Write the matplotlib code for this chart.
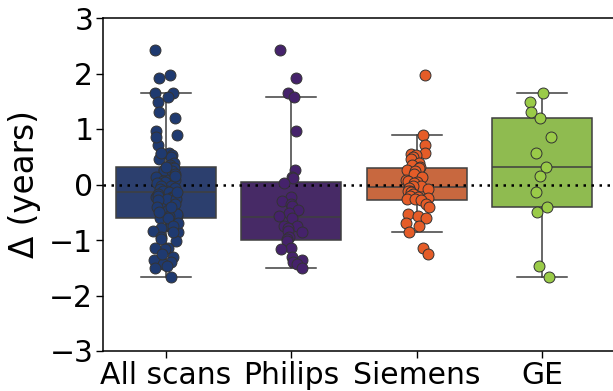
import numpy as np
import matplotlib
matplotlib.use("Agg")
import matplotlib.pyplot as plt

categories = ["All scans", "Philips", "Siemens", "GE"]

philips = [2.42, 1.92, 1.64, 1.58, 0.97, 0.26, 0.14, 0.11, 0.02, -0.22, -0.30,
           -0.36, -0.39, -0.46, -0.52, -0.57, -0.60, -0.74, -0.75, -0.78, -0.84,
           -0.86, -0.95, -0.99, -1.02, -1.14, -1.17, -1.31, -1.36, -1.40, -1.43,
           -1.51]

siemens = [1.98, 0.90, 0.71, 0.57, 0.55, 0.53, 0.50, 0.46, 0.38, 0.35, 0.31,
           0.30, 0.26, 0.25, 0.19, 0.14, 0.09, 0.06, 0.05, 0.03, -0.02, -0.03,
           -0.07, -0.09, -0.12, -0.12, -0.14, -0.17, -0.20, -0.22, -0.24, -0.26,
           -0.27, -0.28, -0.35, -0.40, -0.54, -0.57, -0.60, -0.70, -0.74, -0.86,
           -1.15, -1.26]

ge = [1.65, 1.49, 1.31, 1.19, 0.85, 0.57, 0.32, 0.15, -0.14, -0.40, -0.49,
      -1.47, -1.66]

all_scans = philips + siemens + ge

series = [all_scans, philips, siemens, ge]
box_colors = ["#2c3f6e", "#472a66", "#c8683f", "#8fbb50"]
point_colors = ["#1f3a70", "#45226b", "#e55c28", "#9acb48"]
yticks = [-3, -2, -1, 0, 1, 2, 3]

W, H = 613, 391
fig = plt.figure(figsize=(W / 100, H / 100), dpi=100)
left_px, right_px, top_px, bottom_px = 103, 616, 18, 351
ax = fig.add_axes([left_px / W, 1 - bottom_px / H,
                   (right_px - left_px) / W, (bottom_px - top_px) / H])

edge = "#3f3f3f"
bp = ax.boxplot(series, positions=range(len(series)), widths=0.8,
                patch_artist=True, showfliers=False,
                medianprops=dict(color=edge, linewidth=1.1),
                whiskerprops=dict(color=edge, linewidth=1.1),
                capprops=dict(color=edge, linewidth=1.1),
                boxprops=dict(edgecolor=edge, linewidth=1.1), zorder=1)
for patch, c in zip(bp["boxes"], box_colors):
    patch.set_facecolor(c)

ax.axhline(0, color="black", linestyle=(0, (1, 2.2)), linewidth=1.8, zorder=2)

rng = np.random.default_rng(3)
for i, (vals, c) in enumerate(zip(series, point_colors)):
    x = i + rng.uniform(-0.1, 0.1, len(vals))
    ax.scatter(x, vals, s=62, color=c, edgecolor="#333333", linewidth=0.7,
               zorder=3)

ax.set_xlim(-0.5, 3.5 + (right_px - 605) / 125.5)
ax.set_ylim(-3, 3)
ax.set_yticks(yticks)
ax.set_yticklabels([str(t).replace("-", "\u2212") for t in yticks])
ax.set_xticks(range(len(categories)))
ax.set_xticklabels(categories)
ax.tick_params(labelsize=21.5, length=5, width=1, pad=2)
ax.set_ylabel("\u0394 (years)", fontsize=23.5, labelpad=6)
for s in ax.spines.values():
    s.set_linewidth(1.1)

fig.savefig("out.png", dpi=100)
